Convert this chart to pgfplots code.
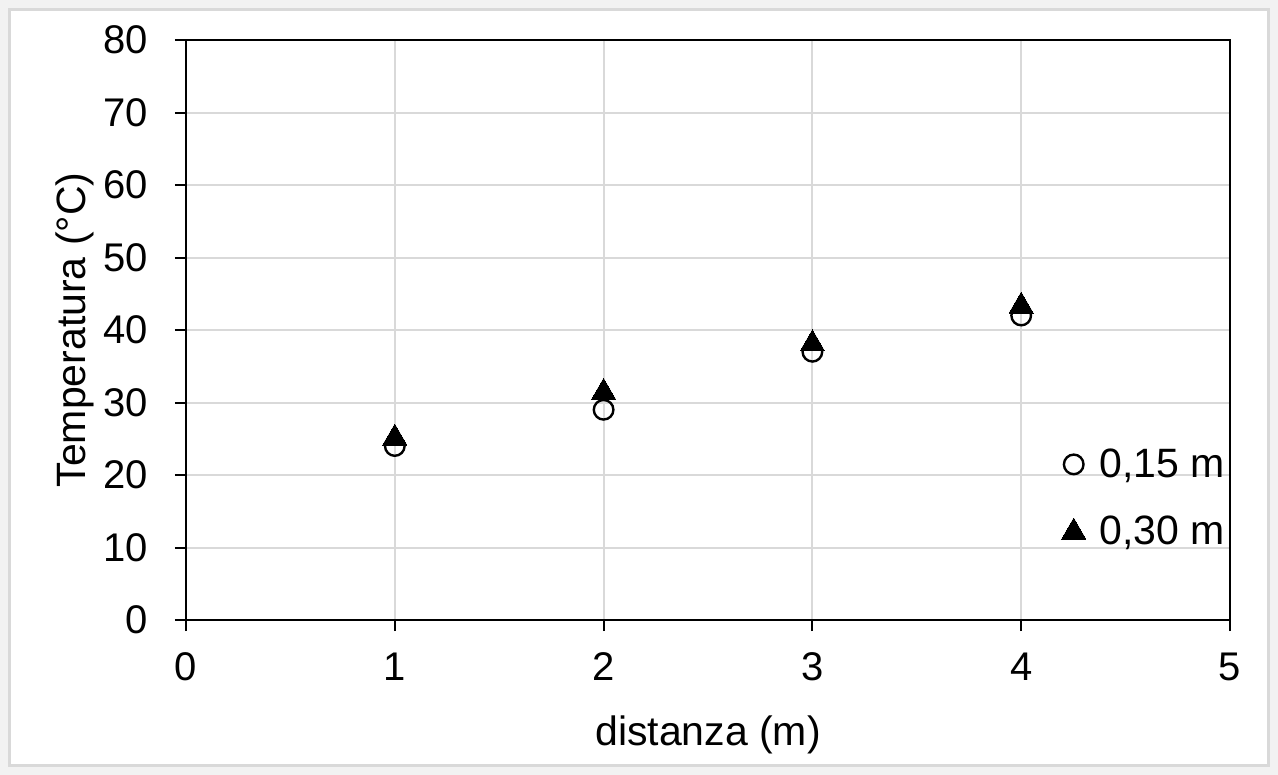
\documentclass[border=0pt]{standalone}
\usepackage{fontspec}
\setmainfont{Liberation Sans}
\usepackage{pgfplots}
\pgfplotsset{compat=1.18}
\definecolor{gridgray}{HTML}{D9D9D9}
\definecolor{bgout}{HTML}{F2F2F2}
\begin{document}
\begin{tikzpicture}
\fill[bgout] (-93pt,-77.5pt) rectangle (546pt,310pt);
\filldraw[fill=white, draw=gridgray, line width=1.5pt] (-88pt,-72.5pt) rectangle (541pt,305pt);
\begin{axis}[
  at={(0,0)}, anchor=south west,
  scale only axis, width=522pt, height=290pt,
  xmin=0, xmax=5, ymin=0, ymax=80,
  xtick={0,1,2,3,4,5}, ytick={0,10,20,30,40,50,60,70,80},
  grid=major, grid style={gridgray, line width=1pt},
  axis line style={black, line width=1pt},
  tick style={black, line width=1pt},
  tick align=outside, major tick length=5.5pt,
  xtick pos=bottom, ytick pos=left,
  /pgf/number format/assume math mode=true,
  tick label style={font=\fontsize{20}{24}\selectfont},
  xticklabel style={yshift=-7.5pt},
  yticklabel style={xshift=-10pt},
  label style={font=\fontsize{20.5}{24}\selectfont},
  xlabel={distanza (m)},
  ylabel={Temperatura (°C)},
  xlabel style={at={(axis description cs:0.5,0)}, anchor=center, yshift=-57.5pt},
  ylabel style={at={(axis description cs:0,0.5)}, anchor=center, rotate=0, yshift=55.5pt},
  legend style={at={(0.999,0.21)}, anchor=east, draw=none, fill=none,
    font=\fontsize{20.5}{24}\selectfont, row sep=14pt, inner sep=0pt},
  legend cell align=left,
  legend image code/.code={\path (0cm,0cm) (0.6cm+2pt,0cm);\draw[#1] plot coordinates {(0.3cm,0cm)};},
]
\addplot[only marks, mark=o, mark size=4.9pt, mark options={line width=1.2pt, fill=white, draw=black}]
  coordinates {(1,24) (2,29) (3,37) (4,42)};
\addlegendentry{0,15 m}
\addplot[only marks, mark=triangle*, mark size=7pt, mark options={fill=black, draw=black, line width=0pt}]
  coordinates {(1,25.1) (2,31.4) (3,38.1) (4,43.3)};
\addlegendentry{0,30 m}
\end{axis}
\end{tikzpicture}
\end{document}
